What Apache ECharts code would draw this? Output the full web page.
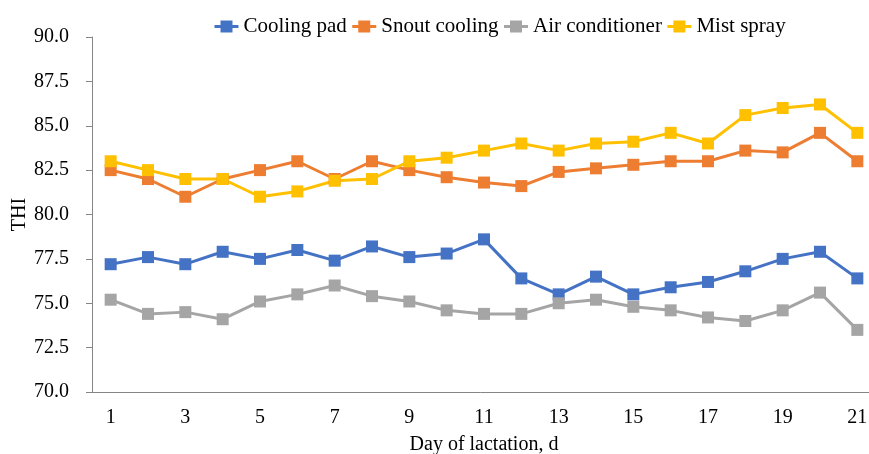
<!DOCTYPE html>
<html>
<head>
<meta charset="utf-8">
<script src="https://cdn.jsdelivr.net/npm/echarts@6/dist/echarts.min.js"></script>
<style>html,body{margin:0;padding:0;background:#fff}#c{width:869px;height:454px}</style>
</head>
<body>
<div id="c"></div>
<script>
var days = ['1','2','3','4','5','6','7','8','9','10','11','12','13','14','15','16','17','18','19','20','21'];
var coolingPad = [77.2, 77.6, 77.2, 77.9, 77.5, 78.0, 77.4, 78.2, 77.6, 77.8, 78.6, 76.4, 75.5, 76.5, 75.5, 75.9, 76.2, 76.8, 77.5, 77.9, 76.4];
var snoutCooling = [82.5, 82.0, 81.0, 82.0, 82.5, 83.0, 82.0, 83.0, 82.5, 82.1, 81.8, 81.6, 82.4, 82.6, 82.8, 83.0, 83.0, 83.6, 83.5, 84.6, 83.0];
var airConditioner = [75.2, 74.4, 74.5, 74.1, 75.1, 75.5, 76.0, 75.4, 75.1, 74.6, 74.4, 74.4, 75.0, 75.2, 74.8, 74.6, 74.2, 74.0, 74.6, 75.6, 73.5];
var mistSpray = [83.0, 82.5, 82.0, 82.0, 81.0, 81.3, 81.9, 82.0, 83.0, 83.2, 83.6, 84.0, 83.6, 84.0, 84.1, 84.6, 84.0, 85.6, 86.0, 86.2, 84.6];
var seriesNames = ['Cooling pad', 'Snout cooling', 'Air conditioner', 'Mist spray'];
var seriesColors = ['#4472C4', '#ED7D31', '#A5A5A5', '#FFC000'];
var seriesData = [coolingPad, snoutCooling, airConditioner, mistSpray];

var font = '"Liberation Serif", "Times New Roman", serif';
var chart = echarts.init(document.getElementById('c'), null, {renderer: 'canvas'});
chart.setOption({
  animation: false,
  textStyle: {fontFamily: font},
  legend: {
    left: 213, top: 16, padding: 0,
    itemWidth: 24, itemHeight: 15, itemGap: 4,
    lineStyle: {width: 3},
    textStyle: {fontFamily: font, fontSize: 21, color: '#000'},
    data: seriesNames
  },
  grid: {left: 92, right: -7, top: 37, bottom: 62, outerBoundsMode: 'none', containLabel: false},
  xAxis: {
    type: 'category',
    data: days,
    boundaryGap: true,
    name: 'Day of lactation, d',
    nameLocation: 'middle',
    nameGap: 43,
    nameMoveOverlap: false,
    nameTextStyle: {fontFamily: font, fontSize: 20, color: '#000'},
    axisLine: {lineStyle: {color: '#868686', width: 1}},
    axisTick: {alignWithLabel: false, length: 6, interval: 0, lineStyle: {color: '#868686'}},
    axisLabel: {interval: 1, margin: 16, fontFamily: font, fontSize: 20, color: '#000'}
  },
  yAxis: {
    type: 'value',
    min: 70, max: 90, interval: 2.5,
    name: 'THI',
    nameLocation: 'middle',
    nameGap: 62,
    nameMoveOverlap: false,
    nameRotate: 90,
    nameTextStyle: {fontFamily: font, fontSize: 20, color: '#000'},
    axisLine: {show: true, lineStyle: {color: '#868686', width: 1}},
    axisTick: {show: true, length: 6, lineStyle: {color: '#868686'}},
    splitLine: {show: false},
    axisLabel: {margin: 23, fontFamily: font, fontSize: 20, color: '#000',
      formatter: function (v) { return v.toFixed(1); }}
  },
  series: seriesNames.map(function (n, i) {
    return {
      name: n, type: 'line', data: seriesData[i],
      symbol: 'rect', symbolSize: 12,
      color: seriesColors[i],
      lineStyle: {width: 3, color: seriesColors[i]},
      itemStyle: {color: seriesColors[i]}
    };
  })
});
</script>
</body>
</html>
